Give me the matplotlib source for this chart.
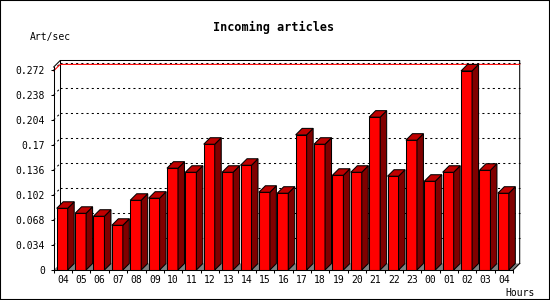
import matplotlib
matplotlib.use('Agg')
import matplotlib.pyplot as plt
from matplotlib.patches import Polygon, Rectangle

# articles par seconde, une barre par heure
hours = ['04', '05', '06', '07', '08', '09', '10', '11', '12', '13', '14', '15', '16',
         '17', '18', '19', '20', '21', '22', '23', '00', '01', '02', '03', '04']
rates = [0.0839, 0.0771, 0.0731, 0.0608, 0.0948, 0.0976, 0.1384, 0.1329, 0.1710,
         0.1329, 0.1424, 0.1057, 0.1044, 0.1837, 0.1710, 0.1288, 0.1329, 0.2078,
         0.1275, 0.1765, 0.1207, 0.1329, 0.2707, 0.1356, 0.1044]
yticks = [0, 0.034, 0.068, 0.102, 0.136, 0.17, 0.204, 0.238, 0.272]
ytick_labels = ['0', '0.034', '0.068', '0.102', '0.136', '0.17', '0.204', '0.238', '0.272']

W, H = 550, 300
mono = 'DejaVu Sans Mono'
fig = plt.figure(figsize=(5.5, 3), dpi=100)
fig.patch.set_facecolor('white')

ytop = 0.276
ax = fig.add_axes([53.7 / W, 30 / H, 459.5 / W, 203 / H])
n = len(rates)
ax.set_xlim(0, n)
ax.set_ylim(0, ytop)

# taille d'un pixel en unites de donnees
px_x = n / 459.5
px_y = ytop / 203
dx = 6.5 * px_x
dy = 6.5 * px_y
lw = 0.75

# sol gris
floor = Polygon([(0, 0), (n, 0), (n + dx, dy), (dx, dy)], closed=True,
                facecolor='#808080', edgecolor='none', zorder=1, clip_on=False)
ax.add_patch(floor)

# grille pointillee sur le fond
for v in yticks[1:]:
    ax.plot([dx, n + dx], [v + dy, v + dy], color='black', lw=lw,
            dashes=(2, 3), zorder=1, clip_on=False)
    ax.plot([0, dx], [v, v + dy], color='black', lw=lw,
            dashes=(2, 3), zorder=1, clip_on=False)

# ligne du maximum
m = max(rates)
ax.plot([0, dx, n + dx], [m, m + dy, m + dy], color='#ff0000', lw=lw,
        zorder=1.5, clip_on=False)

# cadre du fond
ax.plot([0, dx, n + dx, n + dx], [ytop, ytop + dy, ytop + dy, dy],
        color='black', lw=lw, zorder=1.2, clip_on=False)
ax.plot([dx, dx], [dy, ytop + dy], color='black', lw=lw, zorder=1.2, clip_on=False)
ax.plot([n, n + dx], [0, dy], color='black', lw=lw, zorder=1.2, clip_on=False)

# barres 3D
off = 3 * px_x
bw = 11 * px_x
xs = [i + off for i in range(n)]
ax.bar(xs, rates, width=bw, align='edge', color='#ff0000', edgecolor='black',
       linewidth=lw, zorder=3)
for x0, v in zip(xs, rates):
    top = Polygon([(x0, v), (x0 + dx, v + dy), (x0 + bw + dx, v + dy), (x0 + bw, v)],
                  closed=True, facecolor='#c00000', edgecolor='black', lw=lw,
                  zorder=3, clip_on=False)
    side = Polygon([(x0 + bw, 0), (x0 + bw + dx, dy), (x0 + bw + dx, v + dy), (x0 + bw, v)],
                   closed=True, facecolor='#800000', edgecolor='black', lw=lw,
                   zorder=3, clip_on=False)
    ax.add_patch(side)
    ax.add_patch(top)

# axes
for s in ['top', 'right']:
    ax.spines[s].set_visible(False)
for s in ['left', 'bottom']:
    ax.spines[s].set_linewidth(lw)
    ax.spines[s].set_zorder(4)
ax.set_facecolor('none')

ax.set_yticks(yticks)
ax.set_yticklabels(ytick_labels, family=mono, fontsize=7)
ax.tick_params(axis='y', length=2.2, width=lw, pad=4.2)

ax.set_xticks(range(n + 1))
ax.set_xticklabels([''] * (n + 1))
ax.set_xticks([i + 0.5 for i in range(n)], minor=True)
ax.set_xticklabels(hours, minor=True, family=mono, fontsize=7)
ax.tick_params(axis='x', which='major', length=2.2, width=lw)
ax.tick_params(axis='x', which='minor', length=0, pad=3.5)

# textes
fig.text(274 / W, 1 - 27 / H, 'Incoming articles', family=mono, fontsize=8.5,
         fontweight='bold', ha='center', va='center')
fig.text(30 / W, 1 - 37 / H, 'Art/sec', family=mono, fontsize=7, ha='left', va='center')
fig.text(505 / W, 1 - 292.5 / H, 'Hours', family=mono, fontsize=7, ha='left', va='center')

# bordure de l'image
fig.add_artist(Rectangle((0, 0), 1, 1, transform=fig.transFigure, fill=False,
                         edgecolor='black', lw=1.5))

fig.savefig('out.png', dpi=100)
